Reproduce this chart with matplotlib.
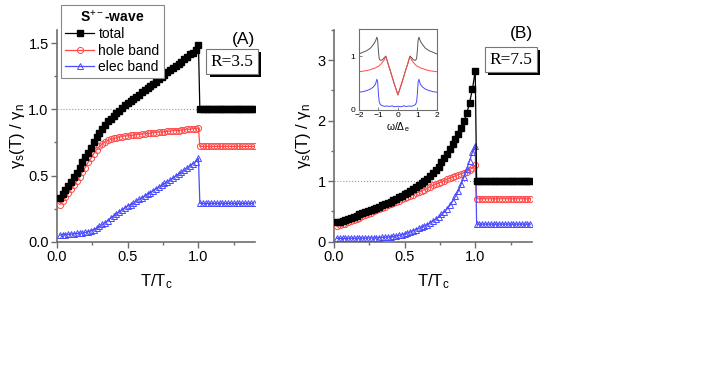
import numpy as np
import matplotlib
matplotlib.use("Agg")
import matplotlib.pyplot as plt
import matplotlib.patheffects as pe

plt.rcParams['font.family'] = ['Liberation Sans', 'DejaVu Sans']
plt.rcParams['mathtext.fontset'] = 'custom'
plt.rcParams['mathtext.rm'] = 'Liberation Sans'
plt.rcParams['mathtext.it'] = 'Liberation Sans:italic'
plt.rcParams['mathtext.bf'] = 'Liberation Sans:bold'

# temperature grid below Tc and above Tc
t_sc = np.round(np.arange(0.02, 1.001, 0.02), 2)
t_n = np.round(np.arange(1.01, 1.40, 0.02), 2)

# panel A (R=3.5)
total_a = [0.33, 0.36, 0.39, 0.42, 0.45, 0.49, 0.52, 0.56, 0.60, 0.64,
           0.67, 0.71, 0.75, 0.79, 0.82, 0.85, 0.88, 0.91, 0.93, 0.95,
           0.97, 0.99, 1.01, 1.03, 1.045, 1.06, 1.08, 1.095, 1.11, 1.13,
           1.145, 1.16, 1.18, 1.195, 1.21, 1.23, 1.245, 1.26, 1.28, 1.295,
           1.31, 1.33, 1.345, 1.36, 1.38, 1.395, 1.415, 1.43, 1.45, 1.49]
hole_a = [0.28, 0.31, 0.34, 0.37, 0.40, 0.43, 0.46, 0.49, 0.53, 0.56,
          0.60, 0.63, 0.665, 0.695, 0.72, 0.74, 0.755, 0.765, 0.773, 0.78,
          0.785, 0.79, 0.795, 0.80, 0.80, 0.805, 0.805, 0.81, 0.81, 0.815,
          0.815, 0.82, 0.82, 0.825, 0.825, 0.83, 0.83, 0.83, 0.835, 0.835,
          0.84, 0.84, 0.84, 0.845, 0.845, 0.85, 0.85, 0.855, 0.855, 0.86]
elec_a = [0.05, 0.052, 0.054, 0.056, 0.058, 0.06, 0.062, 0.064, 0.066, 0.07,
          0.075, 0.082, 0.09, 0.10, 0.115, 0.13, 0.145, 0.16, 0.18, 0.195,
          0.21, 0.225, 0.24, 0.255, 0.27, 0.28, 0.29, 0.305, 0.32, 0.33,
          0.345, 0.36, 0.37, 0.385, 0.40, 0.41, 0.425, 0.44, 0.45, 0.465,
          0.48, 0.495, 0.51, 0.525, 0.54, 0.555, 0.57, 0.59, 0.605, 0.63]
normal_a = {'total': [1.0] * 20, 'hole': [0.72] * 20, 'elec': [0.29] * 20}

# panel B (R=7.5)
total_b = [0.32, 0.33, 0.35, 0.36, 0.38, 0.39, 0.41, 0.43, 0.45, 0.47,
           0.49, 0.51, 0.52, 0.54, 0.56, 0.58, 0.60, 0.62, 0.64, 0.66,
           0.69, 0.71, 0.74, 0.76, 0.79, 0.81, 0.84, 0.87, 0.90, 0.93,
           0.97, 1.00, 1.04, 1.08, 1.13, 1.18, 1.24, 1.31, 1.38, 1.45,
           1.53, 1.61, 1.69, 1.78, 1.88, 1.99, 2.12, 2.30, 2.52, 2.83]
hole_b = [0.26, 0.27, 0.29, 0.30, 0.32, 0.34, 0.36, 0.38, 0.40, 0.42,
          0.44, 0.46, 0.48, 0.50, 0.52, 0.54, 0.56, 0.58, 0.60, 0.62,
          0.64, 0.66, 0.68, 0.70, 0.72, 0.74, 0.76, 0.78, 0.80, 0.82,
          0.84, 0.86, 0.88, 0.91, 0.93, 0.95, 0.97, 0.99, 1.01, 1.03,
          1.05, 1.07, 1.09, 1.11, 1.12, 1.14, 1.16, 1.19, 1.22, 1.27]
elec_b = [0.055, 0.055, 0.055, 0.056, 0.056, 0.057, 0.057, 0.058, 0.058, 0.059,
          0.06, 0.061, 0.062, 0.063, 0.065, 0.067, 0.07, 0.073, 0.077, 0.082,
          0.088, 0.095, 0.105, 0.115, 0.13, 0.145, 0.16, 0.18, 0.20, 0.22,
          0.24, 0.26, 0.28, 0.31, 0.34, 0.37, 0.41, 0.45, 0.49, 0.54,
          0.60, 0.67, 0.75, 0.84, 0.95, 1.07, 1.20, 1.34, 1.48, 1.59]
normal_b = {'total': [1.0] * 20, 'hole': [0.71] * 20, 'elec': [0.29] * 20}

# inset: density of states vs w/Delta_e
omega = [-2.0, -1.8, -1.6, -1.4, -1.25, -1.15, -1.08, -1.04, -1.0, -0.96,
         -0.9, -0.8, -0.7, -0.62, -0.58, -0.5, -0.4, -0.3, -0.2, -0.1, 0.0,
         0.1, 0.2, 0.3, 0.4, 0.5, 0.58, 0.62, 0.7, 0.8, 0.9,
         0.96, 1.0, 1.04, 1.08, 1.15, 1.25, 1.4, 1.6, 1.8, 2.0]
dos_total = [1.04, 1.07, 1.10, 1.15, 1.22, 1.28, 1.35, 1.30, 1.10, 0.95,
             0.92, 0.93, 0.97, 1.00, 0.95, 0.85, 0.74, 0.62, 0.50, 0.39, 0.28,
             0.39, 0.50, 0.62, 0.74, 0.85, 0.95, 1.00, 0.97, 0.93, 0.92,
             0.95, 1.10, 1.30, 1.35, 1.28, 1.22, 1.15, 1.10, 1.07, 1.04]
dos_hole = [0.71, 0.72, 0.73, 0.75, 0.77, 0.78, 0.80, 0.80, 0.81, 0.82,
            0.84, 0.88, 0.93, 0.99, 0.95, 0.85, 0.74, 0.62, 0.50, 0.39, 0.28,
            0.39, 0.50, 0.62, 0.74, 0.85, 0.95, 0.99, 0.93, 0.88, 0.84,
            0.82, 0.81, 0.80, 0.80, 0.78, 0.77, 0.75, 0.73, 0.72, 0.71]
dos_elec = [0.33, 0.34, 0.36, 0.39, 0.43, 0.48, 0.57, 0.52, 0.30, 0.15,
            0.10, 0.08, 0.07, 0.07, 0.075, 0.07, 0.065, 0.08, 0.06, 0.065, 0.07,
            0.065, 0.06, 0.08, 0.065, 0.07, 0.075, 0.07, 0.07, 0.08, 0.10,
            0.15, 0.30, 0.52, 0.57, 0.48, 0.43, 0.39, 0.36, 0.34, 0.33]

RED = '#ff4a4a'
BLUE = '#4a4aff'
SPINE = '#6e6e6e'

fig = plt.figure(figsize=(7.08, 3.78), dpi=100)


def style_axes(ax, ymax, yticks, yminor):
    ax.set_xlim(0, 1.4)
    ax.set_ylim(0, ymax)
    for s in ['top', 'right']:
        ax.spines[s].set_visible(False)
    for s in ['left', 'bottom']:
        ax.spines[s].set_color(SPINE)
        ax.spines[s].set_linewidth(1.2)
    ax.set_xticks([0.0, 0.5, 1.0])
    ax.set_xticks([0.25, 0.75, 1.25], minor=True)
    ax.set_yticks(yticks)
    ax.set_yticks(yminor, minor=True)
    ax.tick_params(which='major', direction='out', length=4, width=1, color=SPINE, labelsize=10.5, pad=2)
    ax.tick_params(which='minor', direction='out', length=2.5, width=1, color=SPINE)
    ax.set_xlabel(r'T/T$_\mathrm{c}$', fontsize=12, labelpad=6)
    ax.set_ylabel(r'γ$_\mathrm{s}$(T) / γ$_\mathrm{n}$', fontsize=12)


def draw_panel(ax, total, hole, elec, normal):
    ax.plot([0, 1.0], [1, 1], ls=':', color='#999999', lw=0.8, zorder=1)
    # red and blue first, black on top
    ax.plot(list(t_sc) + list(t_n), hole + normal['hole'], color=RED, lw=0.9,
            marker='o', ms=4.4, mfc='none', mec=RED, mew=0.7, label='hole band', zorder=3)
    ax.plot(list(t_sc) + list(t_n), elec + normal['elec'], color=BLUE, lw=0.9,
            marker='^', ms=4.4, mfc='none', mec=BLUE, mew=0.7, label='elec band', zorder=3)
    ax.plot(list(t_sc) + list(t_n), total + normal['total'], color='black', lw=0.9,
            marker='s', ms=3.8, mfc='black', mec='black', label='total', zorder=4)


def r_box(ax, x, y, s):
    t = ax.text(x, y, s, transform=ax.transAxes, ha='center', va='center', fontsize=12.5,
                family='Liberation Serif', color='black', zorder=6,
                bbox=dict(boxstyle='square,pad=0.25', fc='white', ec='#777777', lw=0.8))
    t.get_bbox_patch().set_path_effects([
        pe.SimplePatchShadow(offset=(2.2, -2.2), shadow_rgbFace='black', alpha=1.0),
        pe.Normal()])


# panel A
axa = fig.add_axes([0.0805, 0.3606, 0.2797, 0.56])
draw_panel(axa, total_a, hole_a, elec_a, normal_a)
style_axes(axa, 1.6, [0.0, 0.5, 1.0, 1.5], [0.25, 0.75, 1.25])
axa.yaxis.set_major_formatter(matplotlib.ticker.FormatStrFormatter('%.1f'))
axa.yaxis.set_label_coords(-0.15, 0.5)
axa.text(0.94, 0.955, '(A)', transform=axa.transAxes, ha='center', va='center', fontsize=12.5)
r_box(axa, 0.885, 0.85, 'R=3.5')
handles, labels = axa.get_legend_handles_labels()
order = [2, 0, 1]
leg = axa.legend([handles[i] for i in order], [labels[i] for i in order],
                 title=r'S$^{+-}$-wave', loc='upper left', bbox_to_anchor=(0.02, 1.12),
                 borderaxespad=0, fontsize=10, fancybox=False, framealpha=1,
                 edgecolor='#888888', handlelength=2.1, handletextpad=0.3,
                 labelspacing=0.18, borderpad=0.3,
                 title_fontproperties={'weight': 'bold', 'size': 10})
leg.get_frame().set_linewidth(0.8)

# panel B
axb = fig.add_axes([0.4718, 0.3606, 0.2792, 0.56])
draw_panel(axb, total_b, hole_b, elec_b, normal_b)
style_axes(axb, 3.5, [0, 1, 2, 3], [0.5, 1.5, 2.5, 3.5])
axb.xaxis.set_major_formatter(matplotlib.ticker.FormatStrFormatter('%.1f'))
axb.yaxis.set_label_coords(-0.105, 0.5)
axb.text(0.948, 0.985, '(B)', transform=axb.transAxes, ha='center', va='center', fontsize=12.5)
r_box(axb, 0.895, 0.86, 'R=7.5')

# inset
axi = fig.add_axes([0.507, 0.709, 0.110, 0.214])
axi.plot(omega, dos_total, color='#555555', lw=0.7)
axi.plot(omega, dos_hole, color=RED, lw=0.7)
axi.plot(omega, dos_elec, color=BLUE, lw=0.7)
axi.set_xlim(-2, 2)
axi.set_ylim(0, 1.5)
axi.set_xticks([-2, -1, 0, 1, 2])
axi.set_yticks([0, 1])
for s in axi.spines.values():
    s.set_color(SPINE)
    s.set_linewidth(0.8)
axi.tick_params(direction='in', length=2, width=0.6, color=SPINE, labelsize=6, pad=1.5)
axi.tick_params(axis='y', pad=2.5)
axi.set_xlabel(r'ω/Δ$_\mathrm{e}$', fontsize=7.5, labelpad=1)

fig.savefig('out.png', dpi=100)
